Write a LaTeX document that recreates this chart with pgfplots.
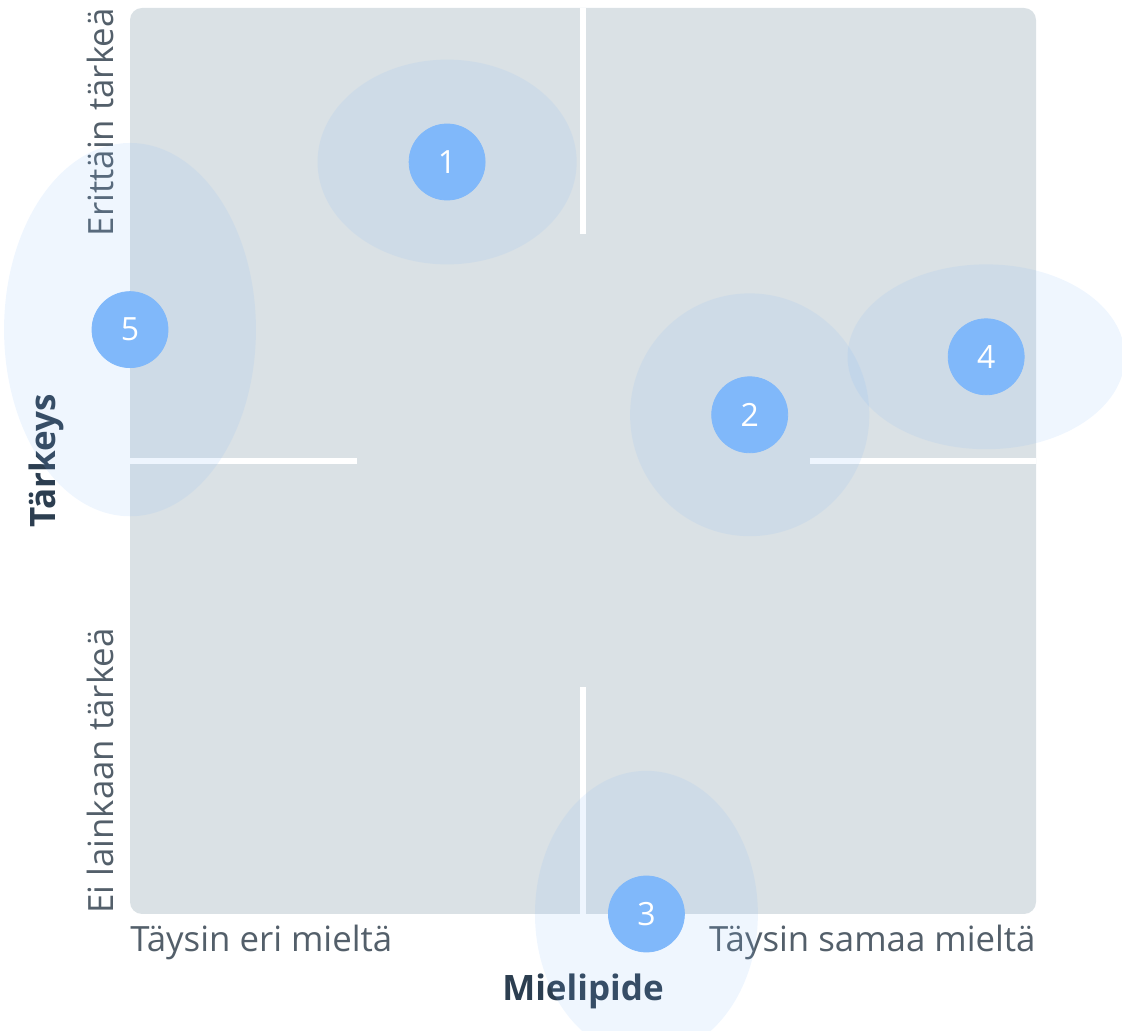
\documentclass[border=0pt]{standalone}
\usepackage{pgfplots}
\pgfplotsset{compat=1.18}
\usepackage{pgfplotstable}
\usepackage{fontspec}
\setmainfont{Open Sans}
\definecolor{panel}{HTML}{DAE1E5}
\definecolor{circ}{HTML}{80B8FA}
\definecolor{ellblue}{HTML}{80B8FA}
\definecolor{lblgray}{HTML}{535F6A}
\definecolor{titlec}{HTML}{2C3E50}
\pgfdeclareplotmark{ell}{%
  \pgfsetfillcolor{ellblue}\pgfsetfillopacity{0.13}%
  \pgfpathellipse{\pgfpointorigin}{\pgfqpoint{\ellrx pt}{0pt}}{\pgfqpoint{0pt}{\ellry pt}}%
  \pgfusepathqfill}
\pgfplotstableread{
x y rx ry
35.0 83.0 14.3 11.3
68.4 55.1 13.2 13.4
57.0 0.0 12.3 15.8
94.5 61.5 15.3 10.2
0.0 64.5 13.9 20.6
}\ellipses
\pgfplotstableread{
x y lab
35.0 83.0 1
68.4 55.1 2
57.0 0.0 3
94.5 61.5 4
0.0 64.5 5
}\points
\begin{document}
\begin{tikzpicture}
\useasboundingbox (0,0) rectangle (561pt,515.5pt);
\clip (0,0) rectangle (561pt,515.5pt);
\begin{axis}[
  at={(65pt,58.5pt)}, anchor=origin,
  x=4.53pt, y=4.53pt,
  xmin=0, xmax=100, ymin=0, ymax=100,
  hide axis, clip=false,
]
\fill[panel, rounded corners=6pt] (axis cs:0,0) rectangle (axis cs:100,100);
\draw[white, line width=3pt] (axis cs:50,100) -- (axis cs:50,75);
\draw[white, line width=3pt] (axis cs:50,0) -- (axis cs:50,25);
\draw[white, line width=3pt] (axis cs:0,50) -- (axis cs:25,50);
\draw[white, line width=3pt] (axis cs:75,50) -- (axis cs:100,50);
\addplot[scatter, only marks, mark=ell,
  visualization depends on={\thisrow{rx}\as\rx},
  visualization depends on={\thisrow{ry}\as\ry},
  scatter/@pre marker code/.code={%
    \pgfmathparse{\rx*4.53}\xdef\ellrx{\pgfmathresult}%
    \pgfmathparse{\ry*4.53}\xdef\ellry{\pgfmathresult}},
  scatter/@post marker code/.code={},
] table[x=x, y=y] {\ellipses};
\addplot[only marks, mark=*, mark size=19pt, circ,
  mark options={draw=none, fill=circ},
  point meta=explicit symbolic,
  nodes near coords,
  every node near coord/.append style={anchor=center, text=white, inner sep=0pt,
    font=\fontsize{16}{18}\selectfont},
] table[x=x, y=y, meta=lab] {\points};
\node[anchor=base west, text=lblgray, inner sep=0pt, font=\fontsize{17.4}{20}\selectfont]
  at (axis cs:0,0) [yshift=-19pt] {Täysin eri mieltä};
\node[anchor=base east, text=lblgray, inner sep=0pt, font=\fontsize{17.4}{20}\selectfont]
  at (axis cs:100,0) [yshift=-19pt] {Täysin samaa mieltä};
\node[anchor=base, text=titlec, inner sep=0pt, font=\fontsize{17.5}{20}\selectfont\bfseries]
  at (axis cs:50,0) [yshift=-43pt] {Mielipide};
\node[rotate=90, anchor=base east, text=lblgray, inner sep=0pt, font=\fontsize{17.4}{20}\selectfont]
  at (axis cs:0,100) [yshift=8.5pt] {Erittäin tärkeä};
\node[rotate=90, anchor=base west, text=lblgray, inner sep=0pt, font=\fontsize{17.4}{20}\selectfont]
  at (axis cs:0,0) [yshift=8.5pt] {Ei lainkaan tärkeä};
\node[rotate=90, anchor=base, text=titlec, inner sep=0pt, font=\fontsize{17.5}{20}\selectfont\bfseries]
  at (axis cs:0,50) [yshift=37pt] {Tärkeys};
\end{axis}
\end{tikzpicture}
\end{document}
